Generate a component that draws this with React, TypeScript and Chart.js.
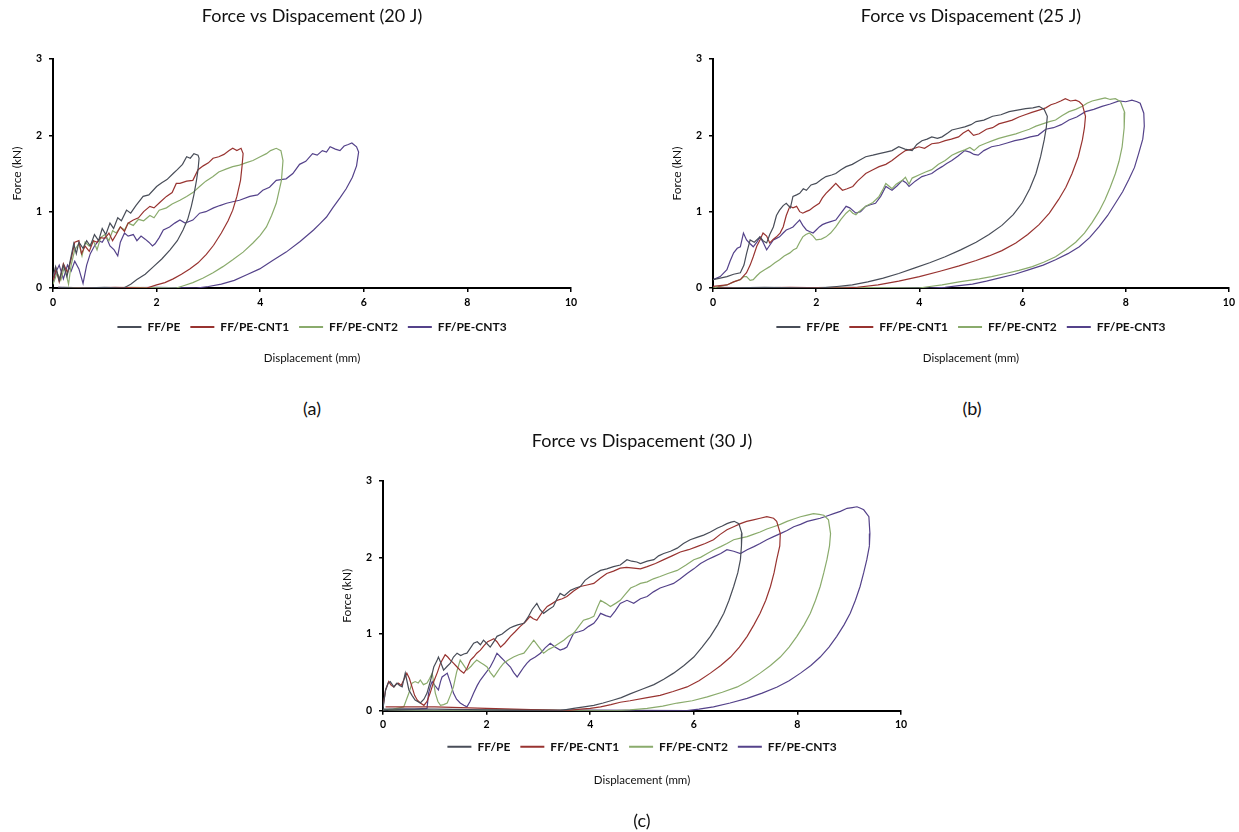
import React, { useEffect, useRef } from "react";
import { Chart, registerables } from "chart.js";

Chart.register(...registerables);

type Pt = [number, number];

const seriesNames = ["FF/PE", "FF/PE-CNT1", "FF/PE-CNT2", "FF/PE-CNT3"];
const seriesColors = ["#484d58", "#983330", "#8aab6c", "#54428a"];
const xTickStep = 2;
const yTickStep = 1;
const xMax = 10;
const yMax = 3;
const xTitle = "Displacement (mm)";
const yTitle = "Force (kN)";

// ---------- (a) 20 J ----------
const A_FFPE: Pt[] = [
  [0, 0.15], [0.05, 0.28], [0.12, 0.1], [0.2, 0.3], [0.27, 0.15], [0.33, 0.35], [0.4, 0.58], [0.45, 0.45],
  [0.5, 0.6], [0.58, 0.52], [0.65, 0.62], [0.72, 0.55], [0.8, 0.7], [0.88, 0.62], [0.95, 0.78], [1.02, 0.7],
  [1.1, 0.85], [1.17, 0.78], [1.25, 0.92], [1.32, 0.88], [1.42, 1.02], [1.5, 0.98], [1.6, 1.08], [1.74, 1.2],
  [1.85, 1.22], [2.0, 1.33], [2.1, 1.38], [2.2, 1.42], [2.32, 1.5], [2.4, 1.55], [2.5, 1.62], [2.58, 1.72],
  [2.65, 1.7], [2.72, 1.76], [2.8, 1.74],
  [2.82, 1.7], [2.8, 1.55], [2.77, 1.41], [2.72, 1.22], [2.67, 1.07], [2.6, 0.9], [2.51, 0.76], [2.4, 0.62],
  [2.26, 0.5], [2.1, 0.38], [1.94, 0.28], [1.78, 0.18], [1.62, 0.11], [1.5, 0.05], [1.42, 0.02], [1.36, 0],
  [1.0, 0.01], [0.5, 0], [0.1, 0.01],
];
const A_CNT1: Pt[] = [
  [0, 0.1], [0.06, 0.25], [0.12, 0.08], [0.2, 0.32], [0.28, 0.2], [0.35, 0.38], [0.42, 0.6], [0.5, 0.62],
  [0.55, 0.45], [0.62, 0.55], [0.7, 0.48], [0.78, 0.62], [0.85, 0.6], [0.92, 0.66], [1.0, 0.65], [1.08, 0.72],
  [1.15, 0.62], [1.22, 0.7], [1.3, 0.8], [1.38, 0.74], [1.45, 0.85], [1.55, 0.89], [1.65, 0.92], [1.75, 1.0],
  [1.87, 1.07], [1.95, 1.05], [2.06, 1.12], [2.19, 1.2], [2.3, 1.25], [2.38, 1.37], [2.45, 1.37], [2.58, 1.4],
  [2.7, 1.41], [2.8, 1.55], [2.9, 1.6], [3.0, 1.64], [3.09, 1.7], [3.2, 1.72], [3.3, 1.75], [3.4, 1.8],
  [3.47, 1.83], [3.55, 1.8], [3.63, 1.83],
  [3.67, 1.76], [3.65, 1.6], [3.62, 1.41], [3.55, 1.2], [3.47, 1.02], [3.38, 0.88], [3.25, 0.72], [3.1, 0.56],
  [2.96, 0.44], [2.8, 0.33], [2.64, 0.25], [2.48, 0.18], [2.32, 0.12], [2.16, 0.07], [2.0, 0.04], [1.81, 0],
  [1.2, 0.01], [0.6, 0], [0.1, 0],
];
const A_CNT2: Pt[] = [
  [0, 0.05], [0.08, 0.2], [0.15, 0.1], [0.22, 0.28], [0.3, 0.05], [0.35, 0.3], [0.42, 0.5], [0.5, 0.58],
  [0.56, 0.42], [0.62, 0.6], [0.7, 0.55], [0.78, 0.62], [0.85, 0.5], [0.92, 0.66], [1.0, 0.7], [1.08, 0.62],
  [1.15, 0.75], [1.22, 0.72], [1.3, 0.8], [1.38, 0.76], [1.45, 0.85], [1.55, 0.82], [1.65, 0.9], [1.75, 0.88],
  [1.87, 0.95], [1.95, 0.92], [2.05, 1.02], [2.19, 1.05], [2.3, 1.1], [2.45, 1.15], [2.58, 1.2], [2.7, 1.25],
  [2.83, 1.33], [2.95, 1.4], [3.09, 1.46], [3.2, 1.52], [3.35, 1.56], [3.47, 1.59], [3.6, 1.61], [3.72, 1.64],
  [3.86, 1.67], [4.0, 1.72], [4.12, 1.76], [4.2, 1.8], [4.31, 1.83], [4.4, 1.8],
  [4.44, 1.67], [4.41, 1.41], [4.31, 1.11], [4.22, 0.95], [4.12, 0.8], [4.0, 0.69], [3.86, 0.59], [3.67, 0.47],
  [3.47, 0.37], [3.28, 0.28], [3.09, 0.2], [2.9, 0.13], [2.7, 0.07], [2.52, 0.03], [2.38, 0],
  [1.5, 0.01], [0.8, 0], [0.2, 0.01],
];
const A_CNT3: Pt[] = [
  [0, 0.05], [0.05, 0.2], [0.12, 0.3], [0.2, 0.12], [0.28, 0.3], [0.35, 0.22], [0.42, 0.35], [0.5, 0.25],
  [0.58, 0.06], [0.65, 0.3], [0.72, 0.45], [0.8, 0.55], [0.88, 0.62], [0.95, 0.6], [1.02, 0.68], [1.1, 0.55],
  [1.18, 0.5], [1.25, 0.42], [1.3, 0.6], [1.38, 0.72], [1.45, 0.68], [1.55, 0.7], [1.62, 0.62], [1.7, 0.68],
  [1.78, 0.64], [1.85, 0.6], [1.92, 0.55], [1.97, 0.58], [2.05, 0.66], [2.13, 0.76], [2.25, 0.8], [2.35, 0.85],
  [2.45, 0.89], [2.55, 0.85], [2.7, 0.89], [2.83, 0.98], [2.95, 1.0], [3.1, 1.05], [3.22, 1.08], [3.35, 1.11],
  [3.47, 1.13], [3.6, 1.15], [3.8, 1.2], [3.95, 1.22], [4.05, 1.28], [4.18, 1.32], [4.31, 1.41], [4.4, 1.42],
  [4.5, 1.43], [4.63, 1.5], [4.76, 1.62], [4.88, 1.66], [5.01, 1.76], [5.1, 1.74], [5.2, 1.8], [5.28, 1.78],
  [5.35, 1.85], [5.45, 1.82], [5.54, 1.8], [5.62, 1.86], [5.7, 1.88], [5.77, 1.9], [5.86, 1.85],
  [5.9, 1.78], [5.86, 1.6], [5.78, 1.45], [5.66, 1.3], [5.54, 1.18], [5.4, 1.05], [5.28, 0.93], [5.15, 0.84],
  [5.03, 0.76], [4.77, 0.61], [4.5, 0.47], [4.24, 0.36], [3.99, 0.25], [3.73, 0.17], [3.5, 0.1], [3.25, 0.05],
  [3.0, 0.02], [2.77, 0], [2.0, 0.01], [1.0, 0], [0.1, 0.01],
];

// ---------- (b) 25 J ----------
const B_FFPE: Pt[] = [
  [0, 0.11], [0.14, 0.13], [0.27, 0.15], [0.4, 0.18], [0.53, 0.2], [0.6, 0.3], [0.65, 0.45], [0.72, 0.63],
  [0.8, 0.6], [0.91, 0.67], [0.97, 0.62], [1.04, 0.59], [1.1, 0.7], [1.17, 0.8], [1.23, 0.95], [1.29, 1.02],
  [1.36, 1.08], [1.42, 1.11], [1.5, 1.05], [1.55, 1.2], [1.62, 1.22], [1.68, 1.24], [1.75, 1.3], [1.81, 1.28],
  [1.9, 1.35], [2.0, 1.37], [2.1, 1.42], [2.19, 1.46], [2.3, 1.48], [2.38, 1.5], [2.48, 1.55], [2.58, 1.59],
  [2.7, 1.62], [2.83, 1.67], [2.96, 1.72], [3.1, 1.74], [3.22, 1.76], [3.35, 1.78], [3.47, 1.8], [3.6, 1.85],
  [3.72, 1.82], [3.86, 1.8], [3.95, 1.88], [4.05, 1.93], [4.15, 1.95], [4.24, 1.98], [4.35, 1.96], [4.44, 1.98],
  [4.55, 2.03], [4.63, 2.07], [4.75, 2.09], [4.88, 2.11], [5.0, 2.14], [5.1, 2.18], [5.25, 2.2], [5.42, 2.25],
  [5.58, 2.27], [5.74, 2.31], [5.9, 2.33], [6.06, 2.35], [6.2, 2.36], [6.32, 2.38], [6.42, 2.34],
  [6.48, 2.25], [6.46, 2.1], [6.42, 1.94], [6.35, 1.72], [6.26, 1.5], [6.14, 1.3], [6.0, 1.12], [5.82, 0.96],
  [5.6, 0.82], [5.35, 0.7], [5.1, 0.6], [4.8, 0.5], [4.5, 0.41], [4.2, 0.33], [3.9, 0.26], [3.6, 0.19],
  [3.3, 0.13], [3.0, 0.08], [2.7, 0.04], [2.4, 0.02], [2.06, 0], [1.0, 0.01], [0.1, 0],
];
const B_CNT1: Pt[] = [
  [0, 0.02], [0.27, 0.04], [0.4, 0.08], [0.53, 0.11], [0.65, 0.2], [0.72, 0.3], [0.78, 0.41], [0.85, 0.55],
  [0.91, 0.63], [0.97, 0.72], [1.04, 0.68], [1.1, 0.59], [1.17, 0.64], [1.23, 0.67], [1.3, 0.72], [1.36, 0.8],
  [1.42, 0.95], [1.49, 1.07], [1.55, 1.05], [1.62, 1.07], [1.68, 1.0], [1.74, 0.98], [1.8, 1.0], [1.87, 1.02],
  [1.95, 1.06], [2.06, 1.11], [2.12, 1.18], [2.19, 1.24], [2.28, 1.3], [2.38, 1.37], [2.45, 1.32], [2.51, 1.28],
  [2.6, 1.3], [2.71, 1.33], [2.8, 1.4], [2.88, 1.45], [2.96, 1.5], [3.1, 1.55], [3.22, 1.59], [3.35, 1.62],
  [3.47, 1.67], [3.6, 1.74], [3.73, 1.8], [3.86, 1.82], [3.99, 1.85], [4.1, 1.83], [4.24, 1.89], [4.37, 1.9],
  [4.5, 1.93], [4.62, 1.95], [4.76, 1.98], [4.85, 2.03], [4.95, 2.07], [5.05, 2.0], [5.16, 2.02], [5.3, 2.08],
  [5.42, 2.1], [5.54, 2.15], [5.7, 2.18], [5.8, 2.2], [5.93, 2.24], [6.05, 2.27], [6.18, 2.3], [6.32, 2.33],
  [6.45, 2.36], [6.55, 2.4], [6.64, 2.42], [6.74, 2.45], [6.83, 2.48], [6.93, 2.45], [7.03, 2.46], [7.1, 2.44],
  [7.16, 2.4],
  [7.22, 2.25], [7.2, 2.1], [7.16, 1.94], [7.08, 1.72], [6.96, 1.5], [6.84, 1.32], [6.7, 1.16], [6.52, 0.98],
  [6.32, 0.83], [6.1, 0.7], [5.87, 0.59], [5.6, 0.49], [5.35, 0.42], [5.1, 0.36], [4.77, 0.29], [4.4, 0.22],
  [4.0, 0.15], [3.6, 0.09], [3.2, 0.04], [2.8, 0.01], [2.5, 0], [1.5, 0.01], [0.5, 0], [0.1, 0.01],
];
const B_CNT2: Pt[] = [
  [0, 0], [0.27, 0.04], [0.4, 0.08], [0.53, 0.11], [0.6, 0.15], [0.65, 0.15], [0.72, 0.1], [0.78, 0.11],
  [0.85, 0.16], [0.91, 0.2], [1.0, 0.24], [1.1, 0.28], [1.2, 0.33], [1.29, 0.37], [1.38, 0.42], [1.49, 0.46],
  [1.56, 0.5], [1.62, 0.52], [1.68, 0.6], [1.74, 0.67], [1.8, 0.7], [1.87, 0.72], [1.94, 0.68], [2.0, 0.63],
  [2.1, 0.64], [2.19, 0.67], [2.28, 0.72], [2.38, 0.8], [2.48, 0.9], [2.58, 0.98], [2.65, 1.02], [2.71, 0.98],
  [2.77, 0.96], [2.83, 1.0], [2.96, 1.07], [3.1, 1.12], [3.22, 1.2], [3.3, 1.3], [3.35, 1.37], [3.42, 1.33],
  [3.47, 1.3], [3.55, 1.36], [3.67, 1.41], [3.73, 1.45], [3.8, 1.36], [3.86, 1.44], [3.99, 1.48], [4.12, 1.52],
  [4.24, 1.55], [4.37, 1.62], [4.5, 1.67], [4.63, 1.74], [4.76, 1.78], [4.88, 1.81], [4.98, 1.84], [5.06, 1.8],
  [5.16, 1.86], [5.3, 1.9], [5.42, 1.93], [5.54, 1.96], [5.7, 1.99], [5.87, 2.02], [6.0, 2.05], [6.13, 2.08],
  [6.26, 2.12], [6.39, 2.15], [6.52, 2.18], [6.64, 2.2], [6.77, 2.26], [6.9, 2.31], [7.03, 2.34], [7.16, 2.38],
  [7.25, 2.42], [7.35, 2.45], [7.48, 2.47], [7.6, 2.49], [7.7, 2.47], [7.8, 2.48], [7.9, 2.44],
  [7.98, 2.3], [7.97, 2.1], [7.93, 1.85], [7.87, 1.66], [7.8, 1.5], [7.7, 1.32], [7.6, 1.16], [7.48, 1.0],
  [7.35, 0.86], [7.2, 0.72], [7.03, 0.6], [6.84, 0.5], [6.64, 0.41], [6.42, 0.34], [6.19, 0.28], [5.93, 0.23],
  [5.67, 0.19], [5.4, 0.15], [5.16, 0.12], [4.77, 0.08], [4.44, 0.04], [4.2, 0.02], [3.99, 0], [2.5, 0.01],
  [1.0, 0], [0.1, 0.01],
];
const B_CNT3: Pt[] = [
  [0, 0.11], [0.14, 0.15], [0.27, 0.24], [0.33, 0.35], [0.4, 0.46], [0.47, 0.52], [0.53, 0.54], [0.59, 0.72],
  [0.65, 0.63], [0.72, 0.58], [0.78, 0.54], [0.85, 0.6], [0.91, 0.67], [0.97, 0.6], [1.04, 0.5], [1.1, 0.56],
  [1.17, 0.63], [1.23, 0.65], [1.29, 0.67], [1.36, 0.72], [1.42, 0.76], [1.49, 0.78], [1.55, 0.8], [1.62, 0.85],
  [1.68, 0.89], [1.74, 0.82], [1.81, 0.76], [1.87, 0.74], [1.94, 0.72], [2.0, 0.76], [2.06, 0.8], [2.12, 0.83],
  [2.19, 0.85], [2.28, 0.87], [2.38, 0.89], [2.48, 0.98], [2.58, 1.07], [2.65, 1.05], [2.77, 0.98], [2.86, 1.0],
  [2.96, 1.07], [3.05, 1.09], [3.15, 1.11], [3.25, 1.2], [3.35, 1.33], [3.42, 1.3], [3.47, 1.28], [3.57, 1.34],
  [3.67, 1.41], [3.74, 1.38], [3.8, 1.33], [3.92, 1.4], [4.05, 1.46], [4.15, 1.48], [4.24, 1.5], [4.34, 1.55],
  [4.44, 1.59], [4.53, 1.63], [4.63, 1.67], [4.75, 1.73], [4.88, 1.8], [4.98, 1.78], [5.06, 1.75], [5.14, 1.74],
  [5.25, 1.8], [5.4, 1.85], [5.55, 1.87], [5.7, 1.9], [5.85, 1.93], [6.0, 1.95], [6.15, 1.98], [6.3, 2.0],
  [6.45, 2.08], [6.6, 2.1], [6.75, 2.14], [6.9, 2.2], [7.05, 2.24], [7.22, 2.31], [7.38, 2.34], [7.54, 2.38],
  [7.7, 2.41], [7.87, 2.45], [8.0, 2.44], [8.12, 2.46], [8.22, 2.44], [8.28, 2.42], [8.35, 2.29],
  [8.36, 2.12], [8.33, 1.95], [8.25, 1.76], [8.17, 1.58], [8.06, 1.42], [7.94, 1.26], [7.8, 1.11], [7.65, 0.95],
  [7.48, 0.8], [7.3, 0.66], [7.1, 0.54], [6.88, 0.45], [6.64, 0.37], [6.4, 0.3], [6.13, 0.24], [5.85, 0.18],
  [5.54, 0.13], [5.3, 0.09], [5.03, 0.05], [4.77, 0.03], [4.5, 0.01], [4.2, 0], [2.5, 0.01], [1.0, 0], [0.1, 0.01],
];

// ---------- (c) 30 J ----------
const C_FFPE: Pt[] = [
  [0, 0.03], [0.05, 0.27], [0.1, 0.36], [0.14, 0.38], [0.21, 0.31], [0.27, 0.36], [0.32, 0.33], [0.37, 0.31],
  [0.43, 0.49], [0.5, 0.27], [0.56, 0.2], [0.62, 0.14], [0.72, 0.1], [0.79, 0.15], [0.85, 0.23], [0.92, 0.4],
  [0.98, 0.57], [1.04, 0.65], [1.07, 0.7], [1.12, 0.62], [1.17, 0.53], [1.24, 0.58], [1.3, 0.62], [1.36, 0.7],
  [1.43, 0.75], [1.5, 0.72], [1.56, 0.74], [1.62, 0.75], [1.69, 0.82], [1.75, 0.88], [1.82, 0.9], [1.88, 0.86],
  [1.94, 0.92], [2.0, 0.88], [2.07, 0.83], [2.14, 0.9], [2.2, 0.97], [2.3, 1.0], [2.39, 1.05], [2.45, 1.08],
  [2.52, 1.1], [2.6, 1.12], [2.72, 1.14], [2.8, 1.22], [2.88, 1.32], [2.97, 1.4], [3.03, 1.32], [3.1, 1.27],
  [3.2, 1.32], [3.29, 1.36], [3.36, 1.46], [3.42, 1.53], [3.5, 1.5], [3.62, 1.57], [3.72, 1.6], [3.81, 1.62],
  [3.9, 1.7], [4.0, 1.75], [4.1, 1.79], [4.2, 1.83], [4.32, 1.85], [4.45, 1.88], [4.58, 1.9], [4.71, 1.97],
  [4.8, 1.95], [4.9, 1.94], [4.97, 1.92], [5.1, 1.95], [5.23, 1.97], [5.32, 2.02], [5.42, 2.05], [5.55, 2.08],
  [5.68, 2.12], [5.8, 2.18], [5.93, 2.23], [6.06, 2.26], [6.19, 2.29], [6.32, 2.33], [6.45, 2.38], [6.55, 2.41],
  [6.64, 2.44], [6.72, 2.46], [6.78, 2.47], [6.87, 2.44],
  [6.93, 2.31], [6.92, 2.15], [6.9, 1.97], [6.85, 1.8], [6.77, 1.62], [6.68, 1.44], [6.58, 1.27], [6.46, 1.12],
  [6.32, 0.97], [6.16, 0.83], [6.0, 0.7], [5.81, 0.59], [5.61, 0.49], [5.42, 0.41], [5.23, 0.34], [5.0, 0.28],
  [4.77, 0.22], [4.6, 0.17], [4.45, 0.14], [4.25, 0.1], [4.07, 0.07], [3.88, 0.05], [3.68, 0.03], [3.42, 0],
  [2.0, 0.01], [1.0, 0.02], [0, 0.02],
];
const C_CNT1: Pt[] = [
  [0, 0.05], [0.05, 0.27], [0.11, 0.38], [0.16, 0.33], [0.21, 0.31], [0.26, 0.35], [0.3, 0.36], [0.35, 0.33],
  [0.4, 0.4], [0.46, 0.49], [0.51, 0.42], [0.56, 0.31], [0.61, 0.2], [0.66, 0.14], [0.72, 0.1], [0.79, 0.07],
  [0.85, 0.12], [0.91, 0.23], [0.98, 0.38], [1.05, 0.5], [1.11, 0.62], [1.2, 0.73], [1.25, 0.7], [1.3, 0.66],
  [1.36, 0.62], [1.43, 0.57], [1.5, 0.52], [1.56, 0.49], [1.62, 0.55], [1.69, 0.66], [1.75, 0.7], [1.81, 0.75],
  [1.88, 0.79], [1.95, 0.85], [2.02, 0.9], [2.08, 0.92], [2.14, 0.94], [2.2, 0.9], [2.27, 0.83], [2.35, 0.88],
  [2.46, 0.97], [2.55, 1.03], [2.65, 1.1], [2.75, 1.16], [2.84, 1.23], [2.9, 1.2], [2.97, 1.18], [3.07, 1.28],
  [3.17, 1.36], [3.27, 1.4], [3.36, 1.44], [3.46, 1.46], [3.55, 1.49], [3.68, 1.56], [3.81, 1.62], [3.94, 1.64],
  [4.07, 1.66], [4.2, 1.73], [4.32, 1.79], [4.45, 1.82], [4.58, 1.86], [4.7, 1.87], [4.84, 1.86], [4.97, 1.85],
  [5.1, 1.88], [5.26, 1.92], [5.42, 1.97], [5.58, 2.02], [5.74, 2.07], [5.9, 2.1], [6.06, 2.14], [6.22, 2.18],
  [6.38, 2.23], [6.51, 2.3], [6.64, 2.36], [6.77, 2.4], [6.9, 2.44], [7.02, 2.47], [7.15, 2.49], [7.28, 2.51],
  [7.41, 2.53], [7.54, 2.51], [7.6, 2.47],
  [7.67, 2.31], [7.66, 2.15], [7.6, 1.97], [7.55, 1.8], [7.48, 1.62], [7.39, 1.44], [7.28, 1.27], [7.16, 1.12],
  [7.03, 0.97], [6.88, 0.83], [6.71, 0.7], [6.52, 0.59], [6.32, 0.49], [6.1, 0.39], [5.87, 0.31], [5.6, 0.25],
  [5.35, 0.2], [5.1, 0.17], [4.77, 0.13], [4.58, 0.11], [4.4, 0.08], [4.2, 0.05], [4.0, 0.03], [3.81, 0.02],
  [3.55, 0], [2.0, 0.03], [1.0, 0.05], [0.05, 0.05],
];
const C_CNT2: Pt[] = [
  [0, 0.01], [0.2, 0.02], [0.4, 0.05], [0.5, 0.23], [0.56, 0.36], [0.62, 0.38], [0.68, 0.36], [0.72, 0.4],
  [0.78, 0.34], [0.85, 0.36], [0.9, 0.42], [0.95, 0.49], [1.01, 0.23], [1.06, 0.12], [1.11, 0.07], [1.17, 0.08],
  [1.24, 0.1], [1.3, 0.2], [1.36, 0.31], [1.42, 0.5], [1.49, 0.66], [1.55, 0.6], [1.62, 0.53], [1.7, 0.58],
  [1.75, 0.62], [1.81, 0.66], [1.88, 0.63], [1.95, 0.6], [2.01, 0.57], [2.07, 0.5], [2.14, 0.44], [2.2, 0.5],
  [2.27, 0.57], [2.33, 0.62], [2.42, 0.66], [2.52, 0.7], [2.62, 0.73], [2.72, 0.75], [2.8, 0.82], [2.91, 0.92],
  [3.0, 0.84], [3.1, 0.75], [3.2, 0.8], [3.29, 0.83], [3.4, 0.88], [3.49, 0.92], [3.58, 0.97], [3.68, 1.01],
  [3.78, 1.1], [3.87, 1.18], [3.97, 1.2], [4.07, 1.23], [4.14, 1.35], [4.2, 1.44], [4.3, 1.4], [4.39, 1.36],
  [4.49, 1.4], [4.58, 1.44], [4.68, 1.52], [4.78, 1.6], [4.88, 1.63], [4.97, 1.66], [5.1, 1.68], [5.22, 1.72],
  [5.35, 1.75], [5.5, 1.79], [5.68, 1.83], [5.85, 1.9], [6.0, 1.97], [6.13, 2.0], [6.26, 2.05], [6.39, 2.1],
  [6.52, 2.14], [6.64, 2.18], [6.77, 2.23], [6.9, 2.25], [7.03, 2.27], [7.15, 2.3], [7.28, 2.33], [7.41, 2.37],
  [7.54, 2.4], [7.67, 2.43], [7.8, 2.47], [7.93, 2.5], [8.06, 2.53], [8.19, 2.55], [8.31, 2.57], [8.42, 2.56],
  [8.51, 2.55], [8.6, 2.49],
  [8.64, 2.31], [8.62, 2.15], [8.57, 1.97], [8.51, 1.8], [8.44, 1.62], [8.35, 1.44], [8.25, 1.27], [8.13, 1.12],
  [7.99, 0.97], [7.84, 0.83], [7.67, 0.7], [7.48, 0.59], [7.28, 0.49], [7.06, 0.39], [6.84, 0.31], [6.55, 0.24],
  [6.26, 0.18], [5.97, 0.13], [5.68, 0.1], [5.4, 0.06], [5.1, 0.03], [4.77, 0.01], [4.5, 0], [2.5, 0.01],
  [1.0, 0], [0.1, 0.01],
];
const C_CNT3: Pt[] = [
  [0, 0.01], [0.3, 0.02], [0.6, 0.02], [0.85, 0.03], [0.88, 0.23], [0.92, 0.33], [0.95, 0.38], [1.0, 0.33],
  [1.07, 0.27], [1.11, 0.38], [1.14, 0.44], [1.2, 0.47], [1.24, 0.49], [1.3, 0.37], [1.36, 0.23], [1.42, 0.15],
  [1.49, 0.1], [1.56, 0.07], [1.62, 0.05], [1.68, 0.12], [1.75, 0.23], [1.82, 0.33], [1.88, 0.4], [1.97, 0.48],
  [2.07, 0.57], [2.14, 0.66], [2.2, 0.75], [2.27, 0.7], [2.33, 0.66], [2.4, 0.61], [2.46, 0.57], [2.52, 0.5],
  [2.59, 0.44], [2.65, 0.5], [2.72, 0.57], [2.78, 0.62], [2.84, 0.66], [2.94, 0.7], [3.04, 0.75], [3.13, 0.82],
  [3.23, 0.88], [3.32, 0.83], [3.42, 0.79], [3.5, 0.81], [3.55, 0.83], [3.62, 0.93], [3.68, 1.01], [3.78, 1.03],
  [3.87, 1.05], [3.97, 1.1], [4.07, 1.14], [4.14, 1.2], [4.2, 1.27], [4.3, 1.24], [4.39, 1.22], [4.48, 1.3],
  [4.58, 1.4], [4.71, 1.44], [4.84, 1.4], [4.97, 1.46], [5.1, 1.49], [5.22, 1.55], [5.35, 1.6], [5.48, 1.63],
  [5.61, 1.66], [5.74, 1.72], [5.87, 1.79], [6.0, 1.85], [6.13, 1.92], [6.26, 1.97], [6.39, 2.01], [6.52, 2.05],
  [6.64, 2.1], [6.77, 2.08], [6.9, 2.05], [7.03, 2.1], [7.16, 2.14], [7.28, 2.18], [7.41, 2.23], [7.54, 2.27],
  [7.67, 2.31], [7.8, 2.35], [7.93, 2.4], [8.06, 2.43], [8.19, 2.47], [8.31, 2.49], [8.44, 2.51], [8.57, 2.54],
  [8.7, 2.57], [8.83, 2.6], [8.96, 2.64], [9.06, 2.65], [9.15, 2.66], [9.22, 2.64], [9.28, 2.62], [9.38, 2.53],
  [9.4, 2.31], [9.39, 2.15], [9.34, 1.97], [9.28, 1.8], [9.21, 1.62], [9.12, 1.44], [9.02, 1.27], [8.9, 1.12],
  [8.76, 0.97], [8.61, 0.83], [8.44, 0.7], [8.26, 0.59], [8.06, 0.49], [7.84, 0.39], [7.61, 0.31], [7.32, 0.23],
  [7.03, 0.16], [6.7, 0.1], [6.38, 0.05], [6.1, 0.02], [5.87, 0], [3.0, 0.01], [1.0, 0], [0.1, 0.01],
];

const panelTitles = [
  "Force vs Dispacement (20 J)",
  "Force vs Dispacement (25 J)",
  "Force vs Dispacement (30 J)",
];
const panelCaptions = ["(a)", "(b)", "(c)"];
const panelSeries: Pt[][][] = [
  [A_FFPE, A_CNT1, A_CNT2, A_CNT3],
  [B_FFPE, B_CNT1, B_CNT2, B_CNT3],
  [C_FFPE, C_CNT1, C_CNT2, C_CNT3],
];

const FONT = "Lato, 'Open Sans', 'DejaVu Sans', sans-serif";
const TEXT = "#111";

type Layout = {
  left: number; top: number; width: number; height: number;
  padRight: number; titleTop: number; titleBottom: number;
  xAxisH: number; subTop: number; subBottom: number;
  capX: number; capY: number;
};

const layouts: Layout[] = [
  { left: 0, top: 0, width: 620, height: 380, padRight: 49, titleTop: 5.2, titleBottom: 32.2, xAxisH: 23, subTop: 8.1, subBottom: 15.1, capX: 312, capY: 408 },
  { left: 660, top: 0, width: 579, height: 380, padRight: 8.3, titleTop: 5.2, titleBottom: 32.2, xAxisH: 23, subTop: 8.1, subBottom: 15.1, capX: 972, capY: 408 },
  { left: 330, top: 420, width: 620, height: 412, padRight: 49, titleTop: 10.2, titleBottom: 28.9, xAxisH: 20, subTop: 10.4, subBottom: 45.1, capX: 642, capY: 820 },
];

function Panel({ idx }: { idx: number }) {
  const ref = useRef<HTMLCanvasElement | null>(null);
  const L = layouts[idx];
  useEffect(() => {
    if (!ref.current) return;
    const datasets = panelSeries[idx].map((pts, i) => ({
      label: seriesNames[i],
      data: pts.map(([x, y]) => ({ x, y })),
      showLine: true,
      borderColor: seriesColors[i],
      backgroundColor: seriesColors[i],
      borderWidth: 1.2,
      pointRadius: 0,
      pointHoverRadius: 0,
      tension: 0,
      fill: false,
    }));
    const tickFont = { family: FONT, size: 10.5, weight: "bold" as const };
    const chart = new Chart(ref.current, {
      type: "scatter",
      data: { datasets },
      options: {
        responsive: false,
        animation: false,
        events: [],
        layout: { padding: { left: 0, right: L.padRight, top: 0, bottom: 0 } },
        plugins: {
          title: {
            display: true,
            text: panelTitles[idx],
            fullSize: false,
            color: TEXT,
            font: { family: FONT, size: 18, weight: "normal" },
            padding: { top: L.titleTop, bottom: L.titleBottom },
          },
          subtitle: {
            display: true,
            position: "bottom",
            text: xTitle,
            fullSize: false,
            color: TEXT,
            font: { family: FONT, size: 11.5, weight: "normal" },
            padding: { top: L.subTop, bottom: L.subBottom },
          },
          legend: {
            display: true,
            position: "bottom",
            fullSize: false,
            labels: {
              usePointStyle: true,
              pointStyle: "line",
              pointStyleWidth: 24,
              color: TEXT,
              font: { family: FONT, size: 12, weight: "bold" },
              padding: 10,
              generateLabels: (c: any) =>
                (Chart as any).defaults.plugins.legend.labels
                  .generateLabels(c)
                  .map((it: any) => ({ ...it, lineWidth: 2 })),
            },
          },
          tooltip: { enabled: false },
        },
        scales: {
          x: {
            type: "linear",
            min: 0,
            max: xMax,
            ticks: { stepSize: xTickStep, color: "#000", font: tickFont, padding: 4 },
            grid: { display: true, drawOnChartArea: false, drawTicks: true, tickLength: 4, color: "#000", lineWidth: 1.5 },
            border: { display: true, color: "#000", width: 2 },
            afterFit: (s: any) => { s.height = L.xAxisH; },
          },
          y: {
            type: "linear",
            min: 0,
            max: yMax,
            ticks: { stepSize: yTickStep, color: "#000", font: tickFont, padding: 7 },
            grid: { display: true, drawOnChartArea: false, drawTicks: true, tickLength: 4, color: "#000", lineWidth: 1.5 },
            border: { display: true, color: "#000", width: 2 },
            title: {
              display: true,
              text: yTitle,
              color: TEXT,
              font: { family: FONT, size: 12, weight: "normal" },
              padding: { top: 10.4, bottom: 0 },
            },
            afterFit: (s: any) => { s.width = 53; },
          },
        },
      } as any,
    });
    return () => chart.destroy();
  }, [idx]);
  return (
    <>
      <canvas
        ref={ref}
        width={L.width}
        height={L.height}
        style={{ position: "absolute", left: L.left, top: L.top, width: L.width, height: L.height }}
      />
      <div
        style={{
          position: "absolute",
          left: L.capX,
          top: L.capY,
          transform: "translate(-50%, -50%)",
          fontFamily: FONT,
          fontSize: 18,
          color: TEXT,
          lineHeight: "20px",
        }}
      >
        {panelCaptions[idx]}
      </div>
    </>
  );
}

export default function App() {
  return (
    <div
      style={{
        position: "fixed",
        left: 0,
        top: 0,
        width: 1239,
        height: 832,
        overflow: "hidden",
        background: "#fff",
      }}
    >
      <Panel idx={0} />
      <Panel idx={1} />
      <Panel idx={2} />
    </div>
  );
}
